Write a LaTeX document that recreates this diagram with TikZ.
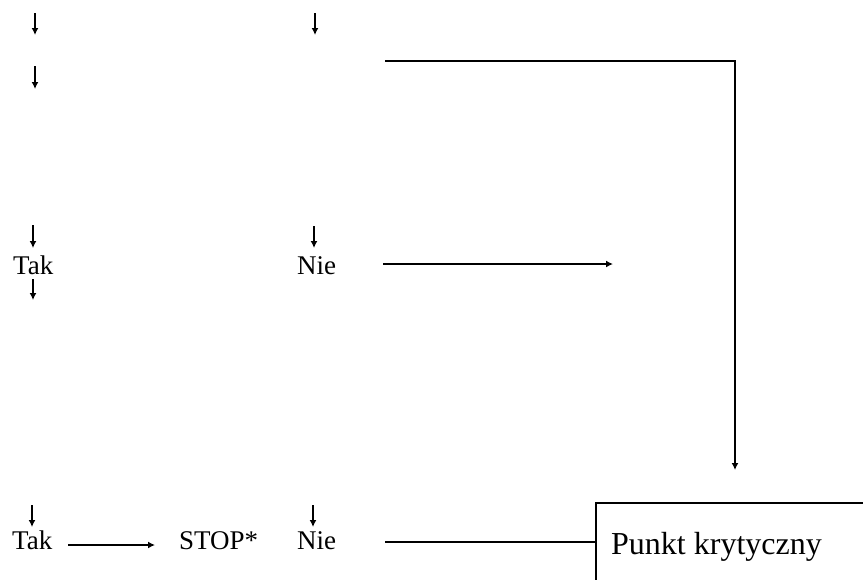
\documentclass[tikz,border=0pt]{standalone}
\usepackage{fontspec}
\setmainfont{Liberation Serif}
\usetikzlibrary{arrows.meta}
\begin{document}
\begin{tikzpicture}[x=1pt,y=-1pt,
  lbl/.style={font=\fontsize{27}{30}\selectfont, inner sep=0pt, anchor=base west},
  big/.style={font=\fontsize{32}{36}\selectfont, inner sep=0pt, anchor=base west},
  tip/.style={-{Latex[length=7pt,width=7pt]}},
  arr/.style={line width=2pt, tip},
  ln/.style={line width=1.5pt},
  boxst/.style={draw, line width=2pt, anchor=north west, minimum width=320pt, minimum height=140pt, inner sep=0pt}]
\useasboundingbox (0,0) rectangle (863,579);
\clip (0,0) rectangle (863,579);
% free-end coordinates
\coordinate (a1s) at (35,13);  \coordinate (a1e) at (35,35);
\coordinate (a2s) at (35,66);  \coordinate (a2e) at (35,89);
\coordinate (a3s) at (315,13); \coordinate (a3e) at (315,35);
\coordinate (a4s) at (33,225); \coordinate (a4e) at (33,248);
\coordinate (a5s) at (33,279); \coordinate (a5e) at (33,300);
\coordinate (a6s) at (314,226); \coordinate (a6e) at (314,248);
\coordinate (a7s) at (383,264); \coordinate (a7e) at (613,264);
\coordinate (a8s) at (32,505); \coordinate (a8e) at (32,527);
\coordinate (a9s) at (313,505); \coordinate (a9e) at (313,527);
\coordinate (a10s) at (68,545); \coordinate (a10e) at (155,545);
\coordinate (l1s) at (385,542);
\coordinate (t1) at (385,61); \coordinate (t2) at (735,61); \coordinate (t3) at (735,470);
% nodes
\node[lbl] (tak1) at (13,274) {Tak};
\node[lbl] (nie1) at (297,274) {Nie};
\node[lbl] (tak2) at (12,549) {Tak};
\node[lbl] (stop) at (179,549) {STOP*};
\node[lbl] (nie2) at (297,549) {Nie};
\node[boxst] (box) at (595,502) {};
\node[big] (pk) at (611,554) {Punkt krytyczny};
% connectors
\draw[arr] (a1s) -- (a1e);
\draw[arr] (a2s) -- (a2e);
\draw[arr] (a3s) -- (a3e);
\draw[arr] (a4s) -- (a4e);
\draw[arr] (a5s) -- (a5e);
\draw[arr] (a6s) -- (a6e);
\draw[ln, tip] (a7s) -- (a7e);
\draw[arr] (a8s) -- (a8e);
\draw[arr] (a9s) -- (a9e);
\draw[ln, tip] (a10s) -- (a10e);
\draw[ln] (l1s) -- (l1s -| box.west);
\draw[ln, tip] (t1) -- (t2) -- (t3);
\end{tikzpicture}
\end{document}
